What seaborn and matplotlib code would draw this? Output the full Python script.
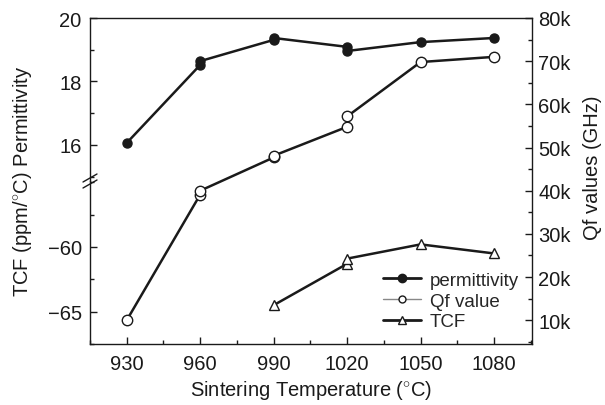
import matplotlib
matplotlib.use("Agg")
import matplotlib.pyplot as plt
import seaborn as sns
from matplotlib.lines import Line2D
from matplotlib.ticker import MultipleLocator

# values (repeated temperatures = repeated samples)
temps = [930, 960, 960, 990, 990, 1020, 1020, 1050, 1080]
permittivity = [16.06, 18.52, 18.64, 19.31, 19.37, 19.09, 18.96, 19.24, 19.37]
qf_values = [10000, 39100, 40000, 47700, 48100, 54800, 57200, 69800, 71000]
tcf_temps = [990, 1020, 1020, 1050, 1080]
tcf = [-64.5, -61.3, -60.9, -59.8, -60.5]

x_ticks = [930, 960, 990, 1020, 1050, 1080]
perm_ticks = [16, 18, 20]
tcf_ticks = [-65, -60]
qf_ticks = [10000, 20000, 30000, 40000, 50000, 60000, 70000, 80000]
qf_labels = ["10k", "20k", "30k", "40k", "50k", "60k", "70k", "80k"]

sns.set_theme(style="ticks")
plt.rcParams["font.family"] = ["Liberation Sans", "DejaVu Sans"]
plt.rcParams["mathtext.fontset"] = "custom"
plt.rcParams["mathtext.rm"] = "Liberation Sans"
fs = 14.5
ink = "#1a1a1a"

fig = plt.figure(figsize=(6.05, 4.06), dpi=100)
L, R, B, T = 90 / 605, 532 / 605, 1 - 345 / 406, 1 - 19 / 406
mid = 1 - 182 / 406
ax_top = fig.add_axes([L, mid, R - L, T - mid])
ax_bot = fig.add_axes([L, B, R - L, mid - B])
ax_q = fig.add_axes([L, B, R - L, T - B], facecolor="none")

xlim = (915, 1095.5)
for ax in (ax_top, ax_bot):
    ax.set_xlim(*xlim)
    ax.set_facecolor("none")
    for s in ("top", "right", "bottom"):
        ax.spines[s].set_visible(False)
    ax.spines["left"].set_linewidth(1.0)
    ax.spines["left"].set_color(ink)
    ax.tick_params(axis="x", bottom=False, labelbottom=False)
    ax.tick_params(axis="y", which="major", direction="in", length=5, width=1,
                   color=ink, labelsize=fs, labelcolor=ink, pad=6)
    ax.tick_params(axis="y", which="minor", direction="in", length=3, width=1, color=ink)

# permittivity (upper left scale)
sns.lineplot(x=temps, y=permittivity, ax=ax_top, estimator=None, sort=False,
             color=ink, lw=1.8, marker="o", markersize=6.5,
             markerfacecolor=ink, markeredgecolor=ink, markeredgewidth=1)
ax_top.set_ylim(14.86, 20)
ax_top.set_yticks(perm_ticks)
ax_top.yaxis.set_minor_locator(MultipleLocator(1))

# TCF (lower left scale)
sns.lineplot(x=tcf_temps, y=tcf, ax=ax_bot, estimator=None, sort=False,
             color=ink, lw=1.8, marker="^", markersize=7.5,
             markerfacecolor="white", markeredgecolor=ink, markeredgewidth=1)
ax_bot.set_ylim(-67.5, -54.9)
ax_bot.set_yticks(tcf_ticks)
ax_bot.set_yticklabels(["\u221265", "\u221260"])
ax_bot.yaxis.set_minor_locator(MultipleLocator(2.5))

# Qf (right scale)
sns.lineplot(x=temps, y=qf_values, ax=ax_q, estimator=None, sort=False,
             color=ink, lw=1.8, marker="o", markersize=7.5,
             markerfacecolor="white", markeredgecolor=ink, markeredgewidth=1)
ax_q.set_xlim(*xlim)
ax_q.set_ylim(4500, 80000)
ax_q.spines["left"].set_visible(False)
for s in ("top", "right", "bottom"):
    ax_q.spines[s].set_linewidth(1.0)
    ax_q.spines[s].set_color(ink)
ax_q.yaxis.tick_right()
ax_q.set_yticks(qf_ticks)
ax_q.set_yticklabels(qf_labels)
ax_q.yaxis.set_minor_locator(MultipleLocator(5000))
ax_q.set_xticks(x_ticks)
ax_q.xaxis.set_minor_locator(MultipleLocator(15))
ax_q.tick_params(which="major", direction="in", length=5, width=1, color=ink,
                 labelsize=fs, labelcolor=ink)
ax_q.tick_params(which="minor", direction="in", length=3, width=1, color=ink)
ax_q.tick_params(axis="x", which="major", pad=7)
ax_q.tick_params(axis="y", which="major", pad=4.5)
ax_q.tick_params(axis="y", which="both", left=False, right=True)
ax_q.set_xlabel(r"Sintering Temperature ($^{\circ}$C)", fontsize=fs, color=ink, labelpad=4)

fig.text(23 / 605, 0.552, r"TCF (ppm/$^{\circ}$C) Permittivity", rotation=90,
         ha="center", va="center", fontsize=fs, color=ink)
fig.text(593 / 605, 0.586, "Qf values (GHz)", rotation=90,
         ha="center", va="center", fontsize=fs, color=ink)

# axis break marks on the left spine
for dy in (-3, 3):
    y0 = 406 - 182 + dy
    fig.add_artist(Line2D([83 / 605, 97 / 605], [(y0 - 4) / 406, (y0 + 4) / 406],
                          color=ink, lw=1.0))

handles = [
    Line2D([], [], color=ink, lw=2, marker="o", markersize=6,
           markerfacecolor=ink, markeredgecolor=ink),
    Line2D([], [], color="#888888", lw=1, marker="o", markersize=5,
           markerfacecolor="white", markeredgecolor=ink),
    Line2D([], [], color=ink, lw=2, marker="^", markersize=6,
           markerfacecolor="white", markeredgecolor=ink),
]
ax_q.legend(handles, ["permittivity", "Qf value", "TCF"], loc="center left",
            bbox_to_anchor=(0.663, 0.132), frameon=False, fontsize=13.5,
            handlelength=2.0, handletextpad=0.5, labelspacing=0.2,
            borderaxespad=0, borderpad=0)

fig.savefig("out.png", dpi=100)
